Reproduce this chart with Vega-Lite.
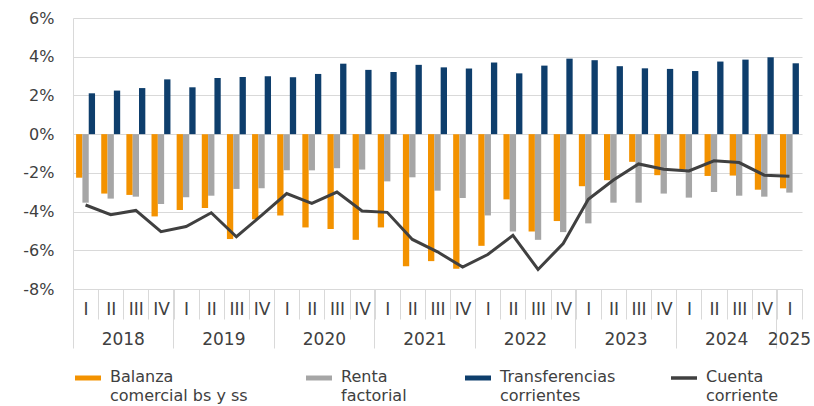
{
  "$schema": "https://vega.github.io/schema/vega-lite/v6.json",
  "autosize": {"type": "none"},
  "padding": {"left": 73, "top": 18, "right": 12, "bottom": 117},
  "width": 729,
  "height": 271,
  "background": "white",
  "config": {
    "view": {"stroke": null},
    "font": "DejaVu Sans",
    "axis": {"labelColor": "#404040", "titleColor": "#404040", "labelFont": "DejaVu Sans"},
    "axisY": {
      "title": null, "values": [-8, -6, -4, -2, 0, 2, 4, 6],
      "labelExpr": "datum.value + '%'", "labelOverlap": false,
      "labelFontSize": 16, "labelPadding": 19, "ticks": false,
      "domain": true, "domainColor": "#d9d9d9",
      "grid": true, "gridColor": "#d9d9d9", "gridWidth": 1
    },
    "legend": {"labelColor": "#404040", "labelFont": "DejaVu Sans"}
  },
  "data": {
    "values": [
      {"q": "2018-I", "Balanza": -2.25, "Renta": -3.54, "Transferencias": 2.11, "Cuenta": -3.66},
      {"q": "2018-II", "Balanza": -3.07, "Renta": -3.33, "Transferencias": 2.25, "Cuenta": -4.16},
      {"q": "2018-III", "Balanza": -3.14, "Renta": -3.23, "Transferencias": 2.38, "Cuenta": -3.94},
      {"q": "2018-IV", "Balanza": -4.25, "Renta": -3.61, "Transferencias": 2.83, "Cuenta": -5.04},
      {"q": "2019-I", "Balanza": -3.92, "Renta": -3.26, "Transferencias": 2.42, "Cuenta": -4.77},
      {"q": "2019-II", "Balanza": -3.82, "Renta": -3.18, "Transferencias": 2.9, "Cuenta": -4.06},
      {"q": "2019-III", "Balanza": -5.42, "Renta": -2.83, "Transferencias": 2.95, "Cuenta": -5.3},
      {"q": "2019-IV", "Balanza": -4.4, "Renta": -2.8, "Transferencias": 2.99, "Cuenta": -4.2},
      {"q": "2020-I", "Balanza": -4.2, "Renta": -1.87, "Transferencias": 2.94, "Cuenta": -3.07},
      {"q": "2020-II", "Balanza": -4.82, "Renta": -1.87, "Transferencias": 3.11, "Cuenta": -3.58},
      {"q": "2020-III", "Balanza": -4.9, "Renta": -1.76, "Transferencias": 3.64, "Cuenta": -2.99},
      {"q": "2020-IV", "Balanza": -5.46, "Renta": -1.83, "Transferencias": 3.32, "Cuenta": -3.97},
      {"q": "2021-I", "Balanza": -4.82, "Renta": -2.44, "Transferencias": 3.21, "Cuenta": -4.04},
      {"q": "2021-II", "Balanza": -6.82, "Renta": -2.23, "Transferencias": 3.58, "Cuenta": -5.44},
      {"q": "2021-III", "Balanza": -6.56, "Renta": -2.92, "Transferencias": 3.45, "Cuenta": -6.08},
      {"q": "2021-IV", "Balanza": -6.96, "Renta": -3.3, "Transferencias": 3.39, "Cuenta": -6.87},
      {"q": "2022-I", "Balanza": -5.77, "Renta": -4.2, "Transferencias": 3.7, "Cuenta": -6.22},
      {"q": "2022-II", "Balanza": -3.37, "Renta": -5.03, "Transferencias": 3.14, "Cuenta": -5.23},
      {"q": "2022-III", "Balanza": -5.03, "Renta": -5.46, "Transferencias": 3.54, "Cuenta": -6.99},
      {"q": "2022-IV", "Balanza": -4.49, "Renta": -5.06, "Transferencias": 3.9, "Cuenta": -5.65},
      {"q": "2023-I", "Balanza": -2.69, "Renta": -4.61, "Transferencias": 3.82, "Cuenta": -3.37},
      {"q": "2023-II", "Balanza": -2.38, "Renta": -3.54, "Transferencias": 3.51, "Cuenta": -2.37},
      {"q": "2023-III", "Balanza": -1.43, "Renta": -3.54, "Transferencias": 3.4, "Cuenta": -1.54},
      {"q": "2023-IV", "Balanza": -2.12, "Renta": -3.07, "Transferencias": 3.37, "Cuenta": -1.81},
      {"q": "2024-I", "Balanza": -1.83, "Renta": -3.28, "Transferencias": 3.26, "Cuenta": -1.9},
      {"q": "2024-II", "Balanza": -2.16, "Renta": -2.99, "Transferencias": 3.75, "Cuenta": -1.38},
      {"q": "2024-III", "Balanza": -2.14, "Renta": -3.18, "Transferencias": 3.85, "Cuenta": -1.47},
      {"q": "2024-IV", "Balanza": -2.87, "Renta": -3.23, "Transferencias": 3.97, "Cuenta": -2.12},
      {"q": "2025-I", "Balanza": -2.8, "Renta": -3.02, "Transferencias": 3.66, "Cuenta": -2.18}
    ]
  },
  "transform": [
    {"fold": ["Balanza", "Renta", "Transferencias", "Cuenta"], "as": ["serie", "v"]}
  ],
  "resolve": {"axis": {"x": "independent"}},
  "layer": [
    {
      "transform": [{"filter": "datum.serie != 'Cuenta'"}],
      "mark": {"type": "bar"},
      "encoding": {
        "x": {
          "field": "q", "type": "nominal", "sort": null,
          "scale": {"paddingInner": 0, "paddingOuter": 0},
          "axis": {
            "orient": "bottom", "title": null,
            "labelExpr": "split(datum.value, '-')[1]",
            "labelAngle": 0, "labelFontSize": 17, "labelPadding": -18,
            "ticks": true, "tickSize": 30, "tickColor": "#d9d9d9", "tickWidth": 1, "tickBand": "extent",
            "domain": true, "domainColor": "#d9d9d9", "grid": false
          }
        },
        "xOffset": {
          "field": "serie",
          "scale": {"domain": ["Balanza", "Renta", "Transferencias"], "paddingInner": 0, "paddingOuter": 0.49}
        },
        "y": {
          "field": "v", "type": "quantitative",
          "scale": {"domain": [-8, 6], "nice": false, "zero": false}
        },
        "color": {
          "field": "serie", "type": "nominal",
          "scale": {
            "domain": ["Balanza", "Renta", "Transferencias", "Cuenta"],
            "range": ["#F39200", "#A6A6A6", "#0E3E6C", "#404040"]
          },
          "legend": {
            "title": null, "orient": "none", "direction": "horizontal", "columns": 4,
            "legendX": 7, "legendY": 352, "padding": 0,
            "columnPadding": 48, "symbolType": "stroke", "symbolSize": 676,
            "symbolStrokeWidth": 5, "labelFontSize": 16, "labelOffset": 14,
            "labelBaseline": "top",
            "labelExpr": "datum.label == 'Balanza' ? ['Balanza', 'comercial bs y ss'] : datum.label == 'Renta' ? ['Renta', 'factorial'] : datum.label == 'Transferencias' ? ['Transferencias', 'corrientes'] : ['Cuenta', 'corriente']",
            "encode": {
              "symbols": {"update": {
                "stroke": {"scale": "color", "field": "value"},
                "fill": {"value": "transparent"},
                "strokeWidth": {"signal": "datum.value == 'Cuenta' ? 3.5 : 5"}
              }},
              "labels": {"update": {"lineHeight": {"value": 19}, "dy": {"value": -9}}}
            }
          }
        }
      }
    },
    {
      "transform": [{"filter": "datum.serie == 'Cuenta'"}],
      "mark": {"type": "line", "strokeWidth": 3, "color": "#404040"},
      "encoding": {
        "x": {
          "field": "q", "type": "nominal", "sort": null,
          "axis": {
            "orient": "bottom", "title": null,
            "values": ["2018-I", "2019-I", "2020-I", "2021-I", "2022-I", "2023-I", "2024-I", "2025-I"],
            "bandPosition": 0,
            "labelExpr": "split(datum.value, '-')[0]",
            "labelAngle": 0, "labelFontSize": 17, "labelPadding": -17, "labelAlign": "center",
            "labelOffset": {"expr": "datum.value == '2025-I' ? 0 : 37.7"},
            "ticks": true, "tickSize": 59, "tickColor": "#d9d9d9", "tickWidth": 1,
            "domain": false, "grid": false
          }
        },
        "y": {"field": "v", "type": "quantitative"},
        "color": {"field": "serie", "type": "nominal"}
      }
    }
  ]
}
